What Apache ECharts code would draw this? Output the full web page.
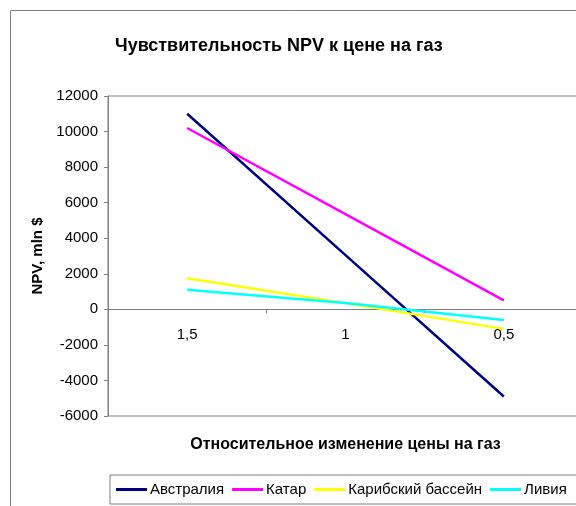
<!DOCTYPE html>
<html>
<head>
<meta charset="utf-8">
<script src="https://cdn.jsdelivr.net/npm/echarts@6/dist/echarts.min.js"></script>
<style>
  html, body { margin: 0; padding: 0; background: #fff; }
  #chart { width: 576px; height: 506px; }
</style>
</head>
<body>
<div id="chart"></div>
<script>
// Relative change of gas price (categories) and NPV per project, mln $
const categories = ['1,5', '1', '0,5'];
const australia = [11000, 3050, -4900];
const qatar = [10200, 5350, 500];
const caribbean = [1750, 350, -1100];
const libya = [1100, 350, -600];

const yTicks = { min: -6000, max: 12000, step: 2000 };

const FONT = '"Liberation Sans", Arial, sans-serif';
const GRAY = '#808080';

const seriesDefs = [
  { name: 'Австралия', data: australia, color: '#000080' },
  { name: 'Катар', data: qatar, color: '#ff00ff' },
  { name: 'Карибский бассейн', data: caribbean, color: '#ffff00' },
  { name: 'Ливия', data: libya, color: '#00ffff' }
];

const chart = echarts.init(document.getElementById('chart'), null, { renderer: 'canvas' });

chart.setOption({
  backgroundColor: '#ffffff',
  animation: false,
  title: {
    text: 'Чувствительность NPV к цене на газ',
    left: 110,
    top: 32,
    textStyle: { fontFamily: FONT, fontSize: 18, fontWeight: 'bold', color: '#000' }
  },
  graphic: [{
    type: 'rect',
    shape: { x: 10.5, y: 10.5, width: 700, height: 700 },
    style: { fill: 'none', stroke: GRAY, lineWidth: 1 },
    silent: true,
    z: -1
  }],
  legend: {
    left: 110,
    top: 475,
    width: 700,
    orient: 'horizontal',
    borderColor: GRAY,
    borderWidth: 1,
    padding: [7, 12, 7, 6],
    icon: 'rect',
    itemWidth: 31,
    itemHeight: 3,
    itemGap: 8,
    textStyle: { fontFamily: FONT, fontSize: 15, color: '#000', padding: [0, 0, 0, -2] },
    data: seriesDefs.map(s => s.name)
  },
  grid: {
    left: 108,
    right: -7,
    top: 96,
    bottom: 90,
    show: true,
    borderColor: GRAY,
    borderWidth: 1,
    containLabel: false,
    outerBoundsMode: 'none'
  },
  xAxis: {
    type: 'category',
    data: categories,
    boundaryGap: true,
    name: 'Относительное изменение цены на газ',
    nameLocation: 'middle',
    // labels and name are laid out from the bottom edge of the grid
    nameGap: 21,
    nameTextStyle: { fontFamily: FONT, fontSize: 16, fontWeight: 'bold', color: '#000' },
    axisLine: { onZero: true, lineStyle: { color: GRAY, width: 1 } },
    axisTick: { show: true, length: 4, lineStyle: { color: GRAY } },
    axisLabel: { fontFamily: FONT, fontSize: 15, color: '#000', margin: -89 },
    splitLine: { show: false }
  },
  yAxis: {
    type: 'value',
    min: yTicks.min,
    max: yTicks.max,
    interval: yTicks.step,
    name: 'NPV, mln $',
    nameLocation: 'middle',
    nameGap: 62,
    nameTextStyle: { fontFamily: FONT, fontSize: 15, fontWeight: 'bold', color: '#000' },
    axisLine: { show: true, onZero: false, lineStyle: { color: GRAY, width: 1 } },
    axisTick: { show: true, length: 4, lineStyle: { color: GRAY } },
    axisLabel: { fontFamily: FONT, fontSize: 15, color: '#000', margin: 10, formatter: v => String(v) },
    splitLine: { show: false }
  },
  series: seriesDefs.map(s => ({
    name: s.name,
    type: 'line',
    data: s.data,
    symbol: 'none',
    color: s.color,
    itemStyle: { color: s.color },
    lineStyle: { color: s.color, width: 2.5 },
    emphasis: { disabled: true }
  }))
});
</script>
</body>
</html>
